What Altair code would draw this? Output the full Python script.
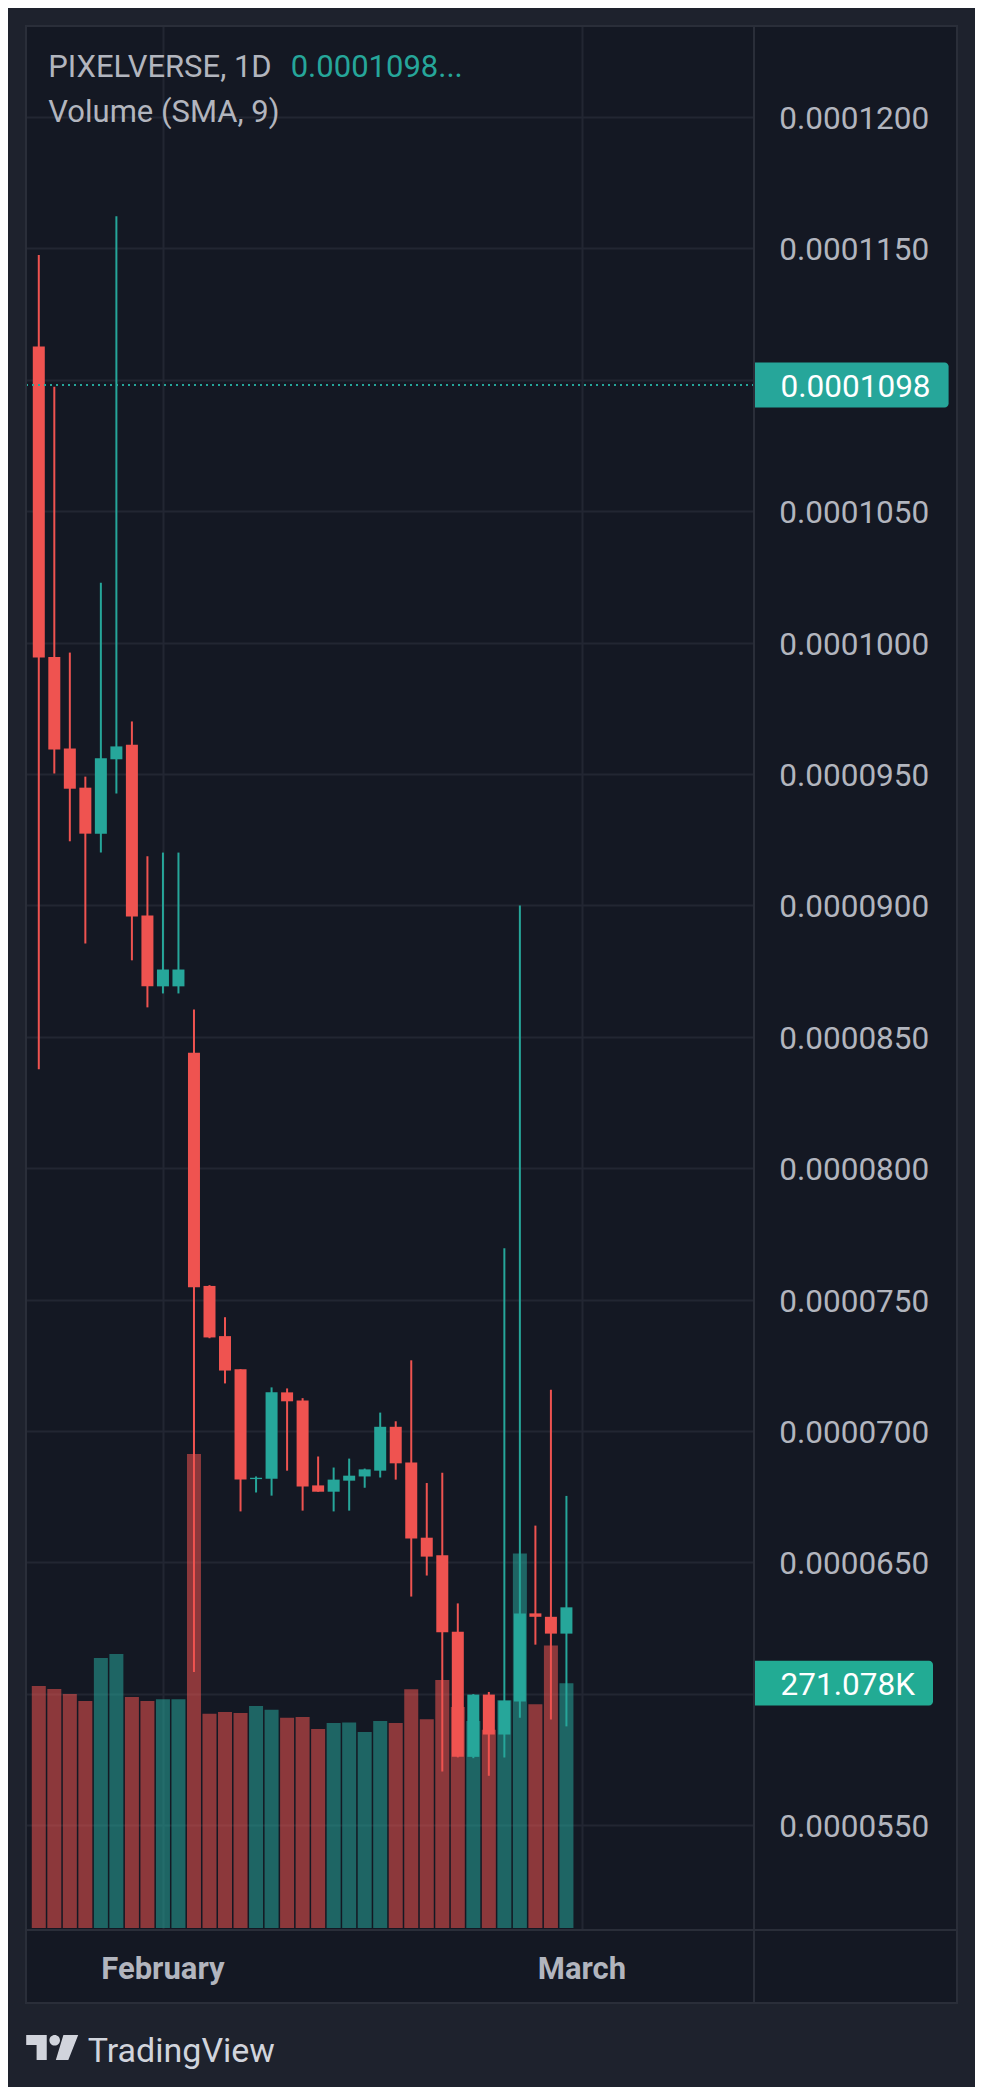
import altair as alt
import numpy as np
import pandas as pd

# ---------------- data (prices in units of 1e-6) ----------------
opens_e6 = [111.27, 99.45, 95.97, 94.48, 92.73, 95.56, 96.11, 89.62, 86.92, 86.92,
            84.39, 75.52, 73.61, 72.35, 68.17, 68.18, 71.47, 71.16, 67.93, 67.69,
            68.11, 68.27, 68.49, 70.16, 68.80, 65.94, 65.27, 62.36, 57.60, 59.97,
            58.45, 59.71, 63.06, 62.93, 62.29]
highs_e6 = [114.75, 109.74, 99.62, 94.90, 102.28, 116.22, 97.00, 91.87, 92.01, 92.01,
            86.04, 75.55, 74.33, 72.35, 68.27, 71.66, 71.62, 71.25, 69.03, 68.61,
            68.95, 68.57, 70.70, 70.37, 72.69, 68.02, 68.41, 63.44, 59.99, 60.07,
            76.95, 90.00, 66.40, 71.57, 67.53]
lows_e6 = [83.77, 95.02, 92.44, 88.55, 92.01, 94.26, 87.91, 86.12, 86.65, 86.65,
           60.83, 73.53, 71.81, 66.94, 67.66, 67.54, 68.49, 66.97, 67.69, 66.94,
           66.97, 67.84, 68.23, 68.15, 63.70, 64.50, 57.04, 57.58, 57.55, 56.88,
           57.58, 59.09, 61.87, 59.02, 58.76]
closes_e6 = [99.43, 95.93, 94.44, 92.73, 95.60, 96.05, 89.58, 86.92, 87.56, 87.56,
             75.47, 73.56, 72.30, 68.15, 68.22, 71.47, 71.13, 67.89, 67.69, 68.15,
             68.30, 68.54, 70.16, 68.77, 65.91, 65.22, 62.34, 57.60, 59.97, 58.45,
             59.74, 63.06, 62.93, 62.29, 63.29]
volumes_k = [268.1, 264.6, 259.2, 251.4, 299.0, 303.4, 255.8, 251.4, 253.3, 253.3,
             524.9, 237.2, 239.2, 238.1, 245.9, 241.6, 232.8, 233.6, 220.5, 226.9,
             227.5, 217.1, 229.1, 226.9, 264.3, 231.3, 274.7, 244.8, 229.1, 219.4,
             252.2, 414.8, 247.8, 312.9, 271.078]

# gridlines at every tick; labels only where the reference shows them
grid_ticks_e6 = [55, 60, 65, 70, 75, 80, 85, 90, 95, 100, 105, 110, 115, 120]
label_ticks_e6 = [55, 65, 70, 75, 80, 85, 90, 95, 100, 105, 115, 120]
month_labels = ["February", "March"]
month_index = [8, 35]

symbol_text = "PIXELVERSE, 1D"
last_price = 0.0001098
last_price_header = "0.0001098..."
indicator_text = "Volume (SMA, 9)"
brand_text = "TradingView"

# ---------------- style ----------------
PLOT_W, PLOT_H = 728, 1904
BG_OUTER = "#1e222d"
BG_PANE = "#141823"
BORDER = "#2a2e39"
GRID = "#222632"
TEXT = "#b2b5be"
UP = "#26a69a"
DOWN = "#ef5350"
FONT = "Roboto"

P_LO, P_HI = 51.012e-6, 123.463e-6
V_LO, V_HI = -2.2, 2106.1
X_LO, X_HI = -0.502, 45.764

price_scale = alt.Scale(domain=[P_LO, P_HI], zero=False, nice=False)
vol_scale = alt.Scale(domain=[V_LO, V_HI], zero=False, nice=False)
x_scale = alt.Scale(domain=[X_LO, X_HI], zero=False, nice=False)

y_axis = alt.Axis(values=[t * 1e-6 for t in grid_ticks_e6], grid=True, labels=False,
                  ticks=False, domain=False, title=None, gridColor=GRID, gridWidth=2)
x_axis = alt.Axis(values=month_index, grid=True, labels=False, ticks=False,
                  domain=False, title=None, gridColor=GRID, gridWidth=2)

color_enc = alt.Color("dir:N", scale=alt.Scale(domain=["up", "down"], range=[UP, DOWN]),
                      legend=None)

df = pd.DataFrame({
    "idx": np.arange(len(opens_e6)),
    "open": np.array(opens_e6) * 1e-6,
    "high": np.array(highs_e6) * 1e-6,
    "low": np.array(lows_e6) * 1e-6,
    "close": np.array(closes_e6) * 1e-6,
    "vol": volumes_k,
})
df["dir"] = np.where(df["close"] >= df["open"], "up", "down")

one = pd.DataFrame({"k": [0]})

def X(field):
    return alt.X(field, type="quantitative", scale=x_scale, axis=x_axis)

def YP(field):
    return alt.Y(field, type="quantitative", scale=price_scale, axis=y_axis)

def YV(field):
    return alt.Y(field, type="quantitative", scale=vol_scale, axis=None)

# ---------------- decoration: axis-region fills ----------------
price_area = alt.Chart(one).mark_rect(fill=BG_PANE).encode(
    x=alt.value(PLOT_W), x2=alt.value(931), y=alt.value(0), y2=alt.value(1977))
time_area = alt.Chart(one).mark_rect(fill=BG_PANE).encode(
    x=alt.value(0), x2=alt.value(PLOT_W), y=alt.value(PLOT_H), y2=alt.value(1977))

# ---------------- volume ----------------
vol_bars = alt.Chart(df).mark_bar(size=14, opacity=0.55).encode(
    x=X("idx"), y=YV("vol"), color=color_enc)

# ---------------- candles ----------------
wicks = alt.Chart(df).mark_rule(strokeWidth=2).encode(
    x=X("idx"), y=YP("low"), y2="high", color=color_enc)
bodies = alt.Chart(df).mark_bar(size=12).encode(
    x=X("idx"), y=YP("open"), y2="close", color=color_enc)

last_df = pd.DataFrame({"price": [last_price]})
price_line = alt.Chart(last_df).mark_rule(color=UP, strokeWidth=2, strokeDash=[2, 4]).encode(
    y=YP("price"), x=alt.value(0), x2=alt.value(PLOT_W))

ticks_df = pd.DataFrame({"tick": [t * 1e-6 for t in label_ticks_e6]})
price_labels = alt.Chart(ticks_df).mark_text(
    align="left", baseline="alphabetic", dy=12, font=FONT, fontSize=31.5, color=TEXT
).transform_calculate(label="format(datum.tick, '.7f')").encode(
    y=YP("tick"), x=alt.value(753.3), text="label:N")

half_p = 22.5 * (P_HI - P_LO) / PLOT_H
price_box = alt.Chart(last_df).mark_rect(
    color=UP, cornerRadiusTopRight=4, cornerRadiusBottomRight=4
).transform_calculate(lo=f"datum.price - {half_p}", hi=f"datum.price + {half_p}").encode(
    y=YP("lo"), y2="hi:Q", x=alt.value(727), x2=alt.value(922.6))
price_box_text = alt.Chart(last_df).mark_text(
    align="left", baseline="alphabetic", dy=12, font=FONT, fontSize=31.5, color="#ffffff"
).transform_calculate(label="format(datum.price, '.7f')").encode(
    y=YP("price"), x=alt.value(754.6), text="label:N")

price_layer = alt.layer(wicks, bodies, price_line, price_labels, price_box, price_box_text)

# ---------------- volume label box ----------------
vlast_df = pd.DataFrame({"vol": [volumes_k[-1]]})
half_v = 22.4 * (V_HI - V_LO) / PLOT_H
vol_box = alt.Chart(vlast_df).mark_rect(
    color="#22ab94", cornerRadiusTopRight=4, cornerRadiusBottomRight=4
).transform_calculate(lo=f"datum.vol - {half_v}", hi=f"datum.vol + {half_v}").encode(
    y=YV("lo"), y2="hi:Q", x=alt.value(727), x2=alt.value(907))
vol_box_text = alt.Chart(vlast_df).mark_text(
    align="left", baseline="alphabetic", dy=12, font=FONT, fontSize=31.5, color="#ffffff"
).transform_calculate(label="format(datum.vol, '.3f') + 'K'").encode(
    y=YV("vol"), x=alt.value(754.6), text="label:N")

# ---------------- time axis labels ----------------
months_df = pd.DataFrame({"pos": month_index, "label": month_labels})
month_text = alt.Chart(months_df).mark_text(
    align="center", baseline="alphabetic", font=FONT, fontSize=31, fontWeight="bold",
    color=TEXT
).encode(x=X("pos"), y=alt.value(1953), text="label:N")

# ---------------- frame ----------------
frame = alt.Chart(one).mark_rect(fill="transparent", stroke=BORDER, strokeWidth=2).encode(
    x=alt.value(0), x2=alt.value(931), y=alt.value(0), y2=alt.value(1977))
vsep = alt.Chart(one).mark_rule(color=BORDER, strokeWidth=2).encode(
    x=alt.value(PLOT_W), y=alt.value(0), y2=alt.value(1977))
hsep = alt.Chart(one).mark_rule(color=BORDER, strokeWidth=2).encode(
    x=alt.value(0), x2=alt.value(931), y=alt.value(PLOT_H))

# ---------------- header texts ----------------
hdr = pd.DataFrame({"sym": [symbol_text], "last": [last_price_header],
                    "ind": [indicator_text], "brand": [brand_text]})
sym_t = alt.Chart(hdr).mark_text(align="left", baseline="alphabetic", font=FONT,
                                 fontSize=31, color=TEXT).encode(
    x=alt.value(22.3), y=alt.value(50.7), text="sym:N")
last_t = alt.Chart(hdr).mark_text(align="left", baseline="alphabetic", font=FONT,
                                  fontSize=31, color=UP).encode(
    x=alt.value(264.7), y=alt.value(50.7), text="last:N")
ind_t = alt.Chart(hdr).mark_text(align="left", baseline="alphabetic", font=FONT,
                                 fontSize=31, color=TEXT).encode(
    x=alt.value(22.3), y=alt.value(95.7), text="ind:N")

# ---------------- brand ----------------
logo_path = ("M -1 -0.48 L -0.21 -0.48 L -0.21 0.48 L -0.6 0.48 L -0.6 -0.1 L -1 -0.1 Z "
             "M -0.108 -0.277 A 0.204 0.204 0 1 0 0.3 -0.277 A 0.204 0.204 0 1 0 -0.108 -0.277 Z "
             "M 0.43 -0.48 L 1 -0.48 L 0.62 0.48 L 0.14 0.48 Z")
logo = alt.Chart(one).mark_point(shape=logo_path, size=2704, filled=True, opacity=1,
                                 color="#d1d4dc", strokeWidth=0).encode(
    x=alt.value(26.2), y=alt.value(2021.5))
brand_t = alt.Chart(hdr).mark_text(align="left", baseline="alphabetic", font=FONT,
                                   fontSize=34, color="#d1d4dc").encode(
    x=alt.value(61.7), y=alt.value(2036.3), text="brand:N")

chart = alt.layer(
    price_area, time_area, vol_bars, price_layer, vol_box, vol_box_text,
    month_text, frame, vsep, hsep, sym_t, last_t, ind_t, logo, brand_t
).resolve_scale(y="independent").properties(
    width=PLOT_W, height=PLOT_H,
    autosize=alt.AutoSizeParams(type="none"),
    padding={"left": 18, "top": 18, "right": 221, "bottom": 157},
).configure(background=BG_OUTER).configure_view(fill=BG_PANE, stroke="transparent")

chart.save("out.html", embed_options={"renderer": "svg", "actions": False})
